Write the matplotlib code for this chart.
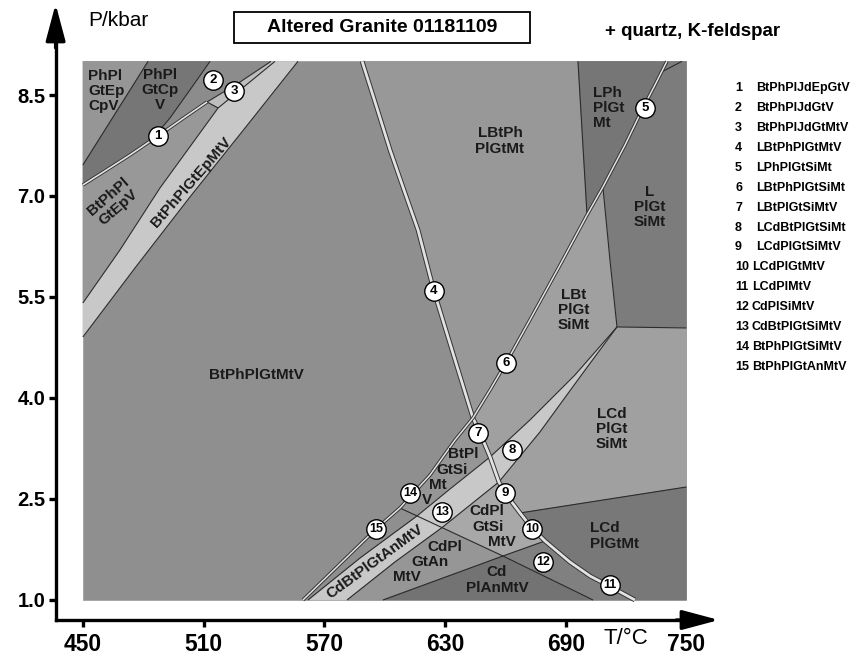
import matplotlib
matplotlib.use('Agg')
import matplotlib.pyplot as plt
from matplotlib.patches import Polygon, Rectangle

plt.rcParams['font.family'] = ['Liberation Sans', 'DejaVu Sans']

# diagram frame (T in C, P in kbar)
T_min, T_max = 450, 750
P_min, P_max = 1.0, 9.0
T_ticks = [450, 510, 570, 630, 690, 750]
P_ticks = [1.0, 2.5, 4.0, 5.5, 7.0, 8.5]

# phase boundaries
melt_T = [588.8, 595.7, 602.7, 609.6, 616.6, 624.5, 635.0, 643.9, 647.4, 652.4,
          656.8, 659.8, 667.3, 673.2, 679.7, 692.1, 702.1, 712.5, 724.4]
melt_P = [9.0, 8.351, 7.683, 7.089, 6.495, 5.589, 4.564, 3.703, 3.480, 3.124,
          2.753, 2.589, 2.292, 2.069, 1.876, 1.564, 1.356, 1.193, 1.0]

sol_T = [559.4, 577.8, 595.7, 607.6, 612.6, 622.6, 635.0, 643.9, 652.4, 660.3,
         672.2, 687.2, 700.6, 708.5, 719.5, 728.4, 734.4, 740.3]
sol_P = [1.0, 1.535, 2.054, 2.366, 2.530, 2.857, 3.376, 3.703, 4.119, 4.520,
         5.159, 5.975, 6.718, 7.134, 7.758, 8.307, 8.649, 9.0]

cd_up_T = [561.9, 587.8, 616.1, 632.5, 646.4, 652.4, 672.2, 694.6, 715.5]
cd_up_P = [1.0, 1.624, 2.248, 2.649, 2.980, 3.124, 3.673, 4.342, 5.055]
cd_lo_T = [581.3, 605.1, 628.5, 642.4, 656.8, 677.2, 697.1, 715.5]
cd_lo_P = [1.0, 1.564, 2.075, 2.408, 2.753, 3.495, 4.312, 5.055]

an_T = [607.6, 616.1, 628.5, 658.8, 703.6]
an_P = [2.366, 2.248, 2.075, 1.653, 1.0]
gt_T = [599.2, 658.8, 679.7]
gt_P = [1.0, 1.653, 1.876]
lcd_T = [667.3, 750.0]
lcd_P = [2.292, 2.678]
bt_T = [708.5, 712.0, 715.5, 750.0]
bt_P = [7.134, 6.050, 5.055, 5.040]
ph_T = [696.1, 700.6]
ph_P = [9.0, 6.718]
branch_T = [737.7, 747.8]
branch_P = [8.842, 9.0]

cp_T = [482.4, 450.0]
cp_P = [9.0, 7.461]
cp2_T = [513.2, 503.2, 493.3, 483.4]
cp2_P = [9.0, 8.575, 8.159, 7.81]
jd_T = [543.5, 528.1, 511.7, 500.8, 487.3, 473.4, 461.0, 450.0]
jd_P = [9.0, 8.693, 8.396, 8.173, 7.891, 7.609, 7.372, 7.164]
ep_l_T = [545.5, 517.2, 488.3, 468.4, 450.0]
ep_l_P = [9.0, 8.307, 7.119, 6.198, 5.411]
ep_r_T = [556.9, 530.6, 503.2, 475.9, 450.0]
ep_r_P = [9.0, 8.010, 6.985, 5.931, 4.906]

# numbered narrow fields
num_T = [487.3, 514.7, 525.1, 624.5, 729.4, 660.3, 646.4, 663.3, 659.8, 673.2,
         712.0, 678.7, 628.5, 612.6, 595.7]
num_P = [7.891, 8.723, 8.560, 5.589, 8.307, 4.520, 3.480, 3.228, 2.589, 2.054,
         1.223, 1.564, 2.307, 2.589, 2.054]
legend_names = ['BtPhPlJdEpGtV', 'BtPhPlJdGtV', 'BtPhPlJdGtMtV', 'LBtPhPlGtMtV',
                'LPhPlGtSiMt', 'LBtPhPlGtSiMt', 'LBtPlGtSiMtV', 'LCdBtPlGtSiMt',
                'LCdPlGtSiMtV', 'LCdPlGtMtV', 'LCdPlMtV', 'CdPlSiMtV',
                'CdBtPlGtSiMtV', 'BtPhPlGtSiMtV', 'BtPhPlGtAnMtV']

melt = (melt_T, melt_P)
sol = (sol_T, sol_P)
cd_up = (cd_up_T, cd_up_P)
cd_lo = (cd_lo_T, cd_lo_P)
an = (an_T, an_P)
gt = (gt_T, gt_P)
lcd = (lcd_T, lcd_P)
bt = (bt_T, bt_P)
ph = (ph_T, ph_P)
cp = (cp_T, cp_P)
cp2 = (cp2_T, cp2_P)
jd = (jd_T, jd_P)
ep_l = (ep_l_T, ep_l_P)
ep_r = (ep_r_T, ep_r_P)


def part(c, i, j):
    step = 1 if j >= i else -1
    return [(c[0][k], c[1][k]) for k in range(i, j + step, step)]


fields = [
    ('#8f8f8f', [(T_min, P_min), (T_max, P_min), (T_max, P_max), (T_min, P_max)]),
    ('#969696', [(T_min, P_max)] + part(cp, 0, 1)),
    ('#767676', part(cp, 0, 0) + part(cp2, 0, 3) + part(jd, 5, 7) + part(cp, 1, 1)),
    ('#8c8c8c', part(jd, 0, 4) + part(cp2, 3, 0)),
    ('#bebebe', part(ep_l, 0, 1) + part(jd, 2, 0)),
    ('#989898', part(ep_l, 1, 4) + part(jd, 7, 2)),
    ('#c8c8c8', part(ep_l, 0, 4) + part(ep_r, 4, 0)),
    ('#989898', part(melt, 0, 7) + part(sol, 7, 12) + part(ph, 0, 0)),
    ('#767676', part(ph, 0, 1) + part(sol, 13, 17)),
    ('#7c7c7c', part(sol, 17, 13) + part(bt, 1, 3) + [(T_max, P_max)]),
    ('#a0a0a0', part(sol, 7, 13) + part(bt, 1, 2) + part(cd_up, 7, 5) + part(melt, 8, 8)),
    ('#a0a0a0', part(bt, 2, 3) + part(lcd, 1, 0) + part(melt, 11, 10) + part(cd_lo, 5, 6)),
    ('#787878', part(lcd, 0, 1) + [(T_max, P_min)] + part(melt, 18, 13)),
    ('#c8c8c8', part(cd_up, 5, 8) + part(cd_lo, 6, 4)),
    ('#969696', part(melt, 7, 9) + part(cd_up, 4, 2) + part(sol, 3, 6)),
    ('#c8c8c8', part(cd_up, 2, 5) + part(cd_lo, 4, 2)),
    ('#c8c8c8', part(cd_up, 0, 2) + part(cd_lo, 2, 0)),
    ('#8f8f8f', part(sol, 0, 3) + part(cd_up, 2, 0)),
    ('#969696', part(cd_lo, 0, 2) + part(gt, 1, 0)),
    ('#a8a8a8', part(cd_lo, 2, 4) + part(melt, 11, 14) + part(gt, 1, 1)),
    ('#737373', part(gt, 0, 1) + part(an, 4, 4)),
    ('#808080', part(gt, 1, 2) + part(melt, 15, 18) + part(an, 4, 3)),
]

fig = plt.figure(figsize=(8.5, 6.57), dpi=100)
ax = fig.add_axes([0, 0, 1, 1])
ax.set_xlim(408.79, 831.33)
ax.set_ylim(0.153, 9.911)
ax.patch.set_alpha(0)

for color, verts in fields:
    ax.add_patch(Polygon(verts, closed=True, facecolor=color, edgecolor=color,
                         lw=0.4, zorder=1))

thin = dict(color='#2b2b2b', lw=0.8, zorder=2, solid_capstyle='butt')
for c in [cp, cp2, ep_l, ep_r, ph, bt, cd_up, cd_lo, an, gt, lcd]:
    ax.plot(c[0], c[1], **thin)
ax.plot(branch_T, branch_P, **thin)
ax.plot(jd_T[:3], jd_P[:3], **thin)
ax.plot([jd_T[2], ep_l_T[1]], [jd_P[2], ep_l_P[1]], **thin)

# narrow fields drawn as double lines
for c, w_out, w_in in [(melt, 3.4, 2.0), (sol, 2.5, 1.1), ((jd_T[2:], jd_P[2:]), 2.5, 1.2)]:
    ax.plot(c[0], c[1], color='#333333', lw=w_out, zorder=3, solid_capstyle='butt')
    ax.plot(c[0], c[1], color='#e2e2e2', lw=w_in, zorder=3, solid_capstyle='butt')

ax.plot(num_T, num_P, 'o', ms=14, mfc='white', mec='black', mew=1.0, zorder=4)
for k, (t, p) in enumerate(zip(num_T, num_P)):
    ax.text(t, p, str(k + 1), fontsize=9 if k >= 9 else 9.5, fontweight='bold',
            ha='center', va='center', zorder=5)

# axes with arrows
for s in ['top', 'right']:
    ax.spines[s].set_visible(False)
x0, y0 = 436.43, 0.7025
ax.spines['left'].set_position(('data', x0))
ax.spines['left'].set_bounds(y0, 9.5)
ax.spines['bottom'].set_position(('data', y0))
ax.spines['bottom'].set_bounds(x0, 755)
for s in ['left', 'bottom']:
    ax.spines[s].set_linewidth(2.4)
ax.annotate('', xy=(x0, 9.852), xytext=(x0, 9.2),
            arrowprops=dict(arrowstyle='-|>,head_length=1.5,head_width=0.4',
                            mutation_scale=15, lw=2.4, color='black',
                            shrinkA=0, shrinkB=0))
ax.annotate('', xy=(766.2, y0), xytext=(745, y0),
            arrowprops=dict(arrowstyle='-|>,head_length=1.5,head_width=0.4',
                            mutation_scale=15, lw=2.4, color='black',
                            shrinkA=0, shrinkB=0))

ax.set_xticks(T_ticks)
ax.set_xticklabels([str(t) for t in T_ticks])
ax.set_yticks(P_ticks)
ax.set_yticklabels([f'{p:.1f}' for p in P_ticks])
ax.tick_params(axis='both', direction='out', length=5, width=2.4, color='black')
ax.tick_params(axis='x', pad=4, labelsize=16.5)
ax.tick_params(axis='y', pad=2.5, labelsize=14.5)
for lab in ax.get_xticklabels() + ax.get_yticklabels():
    lab.set_fontweight('bold')


def px(x, y):
    return x / 850, 1 - y / 657


fig.text(*px(88, 20), 'P/kbar', fontsize=15, ha='left', va='center')
fig.text(*px(626, 638), 'T/°C', fontsize=16, ha='center', va='center')

fig.patches.append(Rectangle(px(234, 43), 296 / 850, 31 / 657, transform=fig.transFigure,
                             fill=False, lw=1.3, ec='black'))
fig.text(*px(382, 28), 'Altered Granite 01181109', fontsize=14, fontweight='bold',
         ha='center', va='center')
fig.text(*px(780, 31), '+ quartz, K-feldspar', fontsize=13.5, fontweight='bold',
         ha='right', va='center')

for k, name in enumerate(legend_names):
    y = 88 + 19.93 * k
    fig.text(*px(735, y), str(k + 1), fontsize=9, fontweight='bold', ha='left', va='center')
    fig.text(*px(756 if k < 9 else 752, y), name, fontsize=9, fontweight='bold',
             ha='left', va='center')

# field names (layout positions in pixels)
field_labels = [
    ('PhPl\nGtEp\nCpV', 88, 91, 0, 'left'),
    ('PhPl\nGtCp\nV', 160, 90, 0, 'center'),
    ('BtPhPl\nGtEpV', 113, 202, 41, 'center'),
    ('BtPhPlGtEpMtV', 191, 182, 49, 'center'),
    ('BtPhPlGtMtV', 256, 375, 0, 'center'),
    ('LBtPh\nPlGtMt', 500, 141, 0, 'center'),
    ('LPh\nPlGt\nMt', 593, 108, 0, 'left'),
    ('L\nPlGt\nSiMt', 650, 207, 0, 'center'),
    ('LBt\nPlGt\nSiMt', 574, 310, 0, 'center'),
    ('LCd\nPlGt\nSiMt', 612, 429, 0, 'center'),
    ('LCd\nPlGtMt', 590, 536, 0, 'left'),
    ('Cd\nPlAnMtV', 497, 580, 0, 'center'),
    ('CdPl', 445, 547, 0, 'center'),
    ('GtAn', 430, 562, 0, 'center'),
    ('MtV', 407, 577, 0, 'center'),
    ('CdPl', 487, 511, 0, 'center'),
    ('GtSi', 488, 527, 0, 'center'),
    ('MtV', 502, 542, 0, 'center'),
    ('BtPl', 463, 454, 0, 'center'),
    ('GtSi', 452, 470, 0, 'center'),
    ('Mt', 438, 485, 0, 'center'),
    ('V', 427, 500, 0, 'center'),
    ('CdBtPlGtAnMtV', 375, 562, 36, 'center'),
]
for text, x, y, rot, align in field_labels:
    fig.text(*px(x, y), text, fontsize=11, fontweight='bold', color='#1a1a1a',
             ha=align, va='center', ma=align, rotation=rot, rotation_mode='anchor',
             linespacing=1.1, zorder=6)

fig.savefig('out.png', dpi=100)
